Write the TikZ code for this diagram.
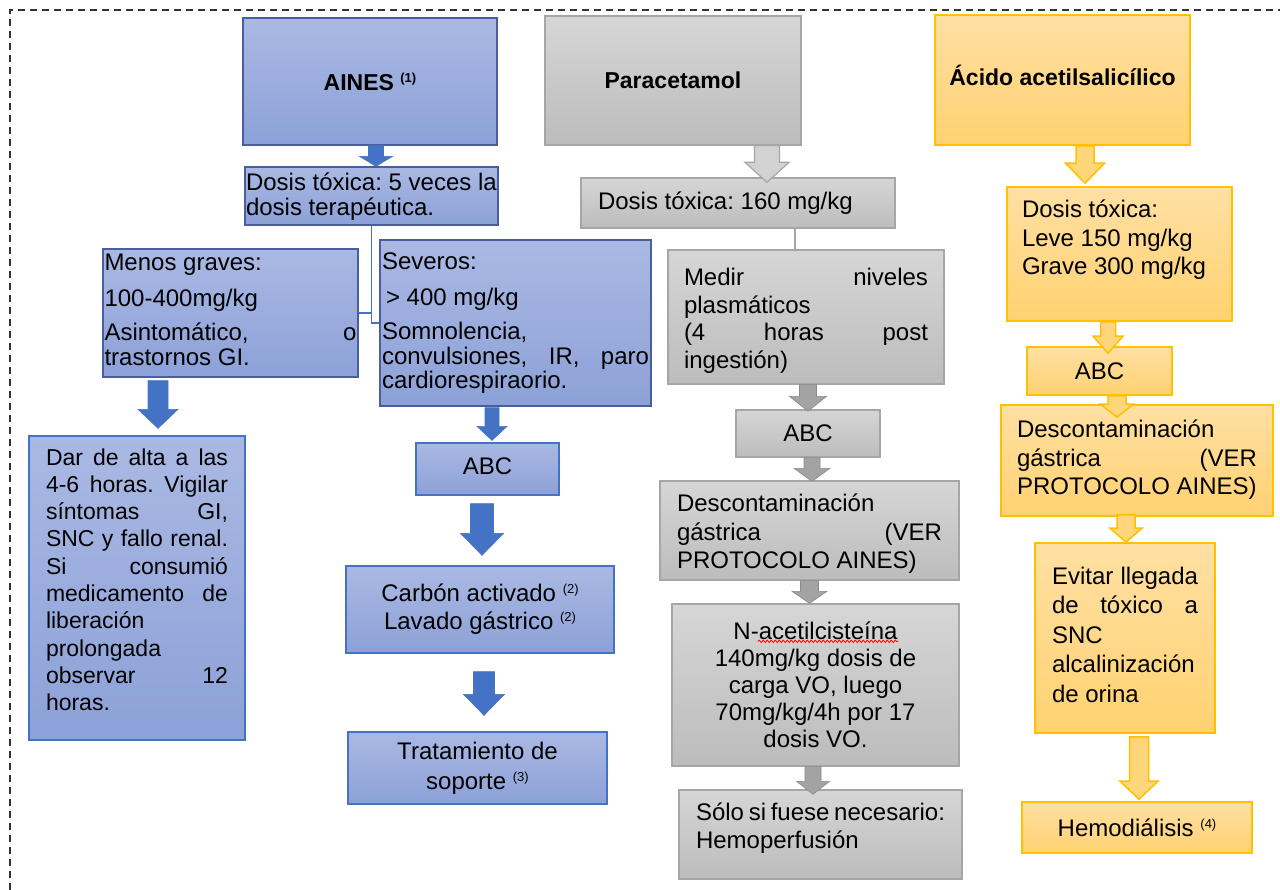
\documentclass[tikz,border=0pt]{standalone}
\usepackage{fontspec}
\setmainfont{Liberation Sans}
\usetikzlibrary{calc,decorations.pathmorphing}
\frenchspacing

\definecolor{bluetop}{HTML}{AAB9E3}
\definecolor{bluebot}{HTML}{8CA1D8}
\definecolor{blueedge}{HTML}{4A5E9E}
\definecolor{blueedgelow}{HTML}{4472C4}
\definecolor{bluearr}{HTML}{4472C4}
\definecolor{graytop}{HTML}{D6D6D6}
\definecolor{graybot}{HTML}{BCBCBC}
\definecolor{grayedge}{HTML}{A6A6A6}
\definecolor{grayarr}{HTML}{A3A3A3}
\definecolor{graylight}{HTML}{D2D2D2}
\definecolor{orangetop}{HTML}{FFE0A3}
\definecolor{orangebot}{HTML}{FFD171}
\definecolor{orangeedge}{HTML}{FFC000}
\definecolor{orangearr}{HTML}{FFD67A}

\newcommand{\refmark}[1]{\raisebox{8pt}{\fontsize{13}{13}\selectfont(#1)}}
\newcommand{\jl}[1]{\makebox[\linewidth][s]{#1}}
\newcommand{\fatarrow}[6][]{%
  \coordinate (fa1) at (#2);
  \coordinate (fa2) at (#3);
  \coordinate (fa3) at (fa1 |- fa2);
  \filldraw[#1] ($(fa1)+(-#4,0)$) -- ($(fa1)+(#4,0)$) -- ($(fa3)+(#4,-#6)$) -- ($(fa3)+(#5,-#6)$)
    -- (fa3) -- ($(fa3)+(-#5,-#6)$) -- ($(fa3)+(-#4,-#6)$) -- cycle;}

\tikzset{
  txt/.style={font=\fontsize{24}{27.6}\selectfont, text=black},
  cbox/.style={inner sep=0pt, align=center},
  bluebox/.style={txt, draw=blueedge, line width=1.3pt, top color=bluetop, bottom color=bluebot},
  blueboxlow/.style={bluebox, draw=blueedgelow},
  graybox/.style={txt, draw=grayedge, line width=1.3pt, top color=graytop, bottom color=graybot},
  orangebox/.style={txt, draw=orangeedge, line width=1.6pt, top color=orangetop, bottom color=orangebot},
  title/.style={font=\fontsize{23}{27}\selectfont\bfseries},
  bluearrow/.style={fill=bluearr, draw=bluearr, line width=0.6pt},
  grayarrow/.style={fill=grayarr, draw=grayarr!85!black, line width=0.6pt},
  graylightarrow/.style={fill=graylight, draw=grayedge, line width=1.2pt},
  orangearrow/.style={fill=orangearr, draw=orangeedge, line width=1.5pt},
  bluelink/.style={draw=bluearr, line width=1.5pt},
  graylink/.style={draw=grayedge, line width=1.5pt},
  outerframe/.style={draw=black!80, dash pattern=on 7pt off 5pt, line width=1.2pt}
}

\begin{document}
\begin{tikzpicture}[x=1pt,y=-1pt]
\useasboundingbox (0,0) rectangle (1280,890);
\draw[outerframe] (10,890) -- (10,10) -- (1280,10);

% AINES
\node[bluebox, cbox, minimum width=254, minimum height=127] (ainesT) at (370,81.5)
  {{\fontsize{23}{27}\selectfont\bfseries AINES \refmark{1}}};
\node[bluebox, inner xsep=1, inner ysep=6.1, font=\fontsize{24}{25}\selectfont] (dosisA) at (371.5,196)
  {\parbox[c][45.8pt][t]{251pt}{Dosis tóxica: 5 veces la\\dosis terapéutica.}};
\node[bluebox, inner xsep=1.5, inner ysep=5.1, font=\fontsize{24}{24.5}\selectfont] (menosA) at (230.5,313)
  {\parbox[c][117.8pt][t]{252pt}{Menos graves:\par\vspace{11.5pt}100-400mg/kg\par\vspace{9.5pt}\jl{Asintomático, o}\\trastornos GI.}};
\node[bluebox, inner xsep=2, inner ysep=13.1, font=\fontsize{24}{24.5}\selectfont] (sevA) at (515.5,323)
  {\parbox[c][139.8pt][t]{267pt}{Severos:\par\vspace{11.5pt}\hspace*{4pt}> 400 mg/kg\par\vspace{9.5pt}Somnolencia,\\\jl{convulsiones, IR, paro}\\cardiorespiraorio.}};
\node[blueboxlow, inner xsep=17, inner ysep=12.4, font=\fontsize{23}{27.3}\selectfont] (darA) at (137,588)
  {\parbox[c][279.2pt][t]{182pt}{\jl{Dar de alta a las}\\\jl{4-6 horas. Vigilar}\\\jl{síntomas GI,}\\\jl{SNC y fallo renal.}\\\jl{Si consumió}\\\jl{medicamento de}\\liberación\\prolongada\\\jl{observar 12}\\horas.}};
\node[blueboxlow, cbox, minimum width=143, minimum height=52] (abcA) at (487.5,469) {\raisebox{6pt}{ABC}};
\node[blueboxlow, cbox, minimum width=268, minimum height=87, font=\fontsize{24}{28}\selectfont] (carbA) at (480,609.5)
  {Carbón activado \refmark{2}\\Lavado gástrico \refmark{2}};
\node[blueboxlow, cbox, minimum width=259, minimum height=72, font=\fontsize{24}{30}\selectfont] (tratA) at (477.5,768)
  {Tratamiento de\\soporte \refmark{3}};

\draw[bluelink] (dosisA.south) |- (menosA.east);
\draw[bluelink] (dosisA.south) |- (sevA.west);
\fatarrow[bluearrow]{$(ainesT.south)+(6,0)$}{dosisA.north}{7.5}{16.5}{10}
\fatarrow[bluearrow]{$(menosA.south)+(-72.5,3)$}{$(darA.north)+(0,-7)$}{10}{20}{19}
\fatarrow[bluearrow]{$(sevA.south)+(-23.5,1)$}{$(abcA.north)+(0,-2)$}{7}{15}{14}
\fatarrow[bluearrow]{$(abcA.south)+(-5.5,8)$}{$(carbA.north)+(0,-10)$}{11.5}{21.5}{22}
\fatarrow[bluearrow]{$(carbA.south)+(4,18)$}{$(tratA.north)+(0,-16)$}{10.5}{20.5}{21}

% Paracetamol
\node[graybox, cbox, minimum width=256, minimum height=129, title] (parT) at (673,80.5) {Paracetamol};
\node[graybox, inner xsep=17, inner ysep=0, minimum height=50] (dosisP) at (738,203)
  {\parbox{280pt}{Dosis tóxica: 160 mg/kg}};
\node[graybox, inner xsep=16, inner ysep=18.1] (medirP) at (806,317)
  {\parbox[c][97.8pt][t]{244pt}{\jl{Medir niveles}\\plasmáticos\\\jl{(4 horas post}\\ingestión)}};
\node[graybox, cbox, minimum width=144, minimum height=47] (abcP) at (808,433.5) {ABC};
\node[graybox, inner xsep=17, inner ysep=13.1, font=\fontsize{24}{28.5}\selectfont] (descP) at (809.5,530.5)
  {\parbox[c][72.8pt][t]{265pt}{Descontaminación\\\jl{gástrica (VER}\\PROTOCOLO AINES)}};
\node[graybox, cbox, minimum width=287, minimum height=162, font=\fontsize{24}{27}\selectfont] (nacP) at (815.5,685)
  {N-acetilcisteína\\140mg/kg dosis de\\carga VO, luego\\70mg/kg/4h por 17\\dosis VO.};
\node[graybox, inner xsep=17, inner ysep=13.1, font=\fontsize{24}{28}\selectfont] (soloP) at (820.5,834.5)
  {\parbox[c][62.8pt][t]{249pt}{Sólo si fuese necesario:\\Hemoperfusión}};

\coordinate (plink) at ($(dosisP.south)+(57,0)$);
\draw[graylink] (plink) -- (plink |- medirP.north);
\fatarrow[graylightarrow]{$(parT.south)+(94,0)$}{$(dosisP.north)+(0,5)$}{12.5}{22}{20}
\fatarrow[grayarrow]{$(medirP.south)+(2,0)$}{$(abcP.north)+(0,2)$}{8.5}{18.5}{15}
\fatarrow[grayarrow]{$(abcP.south)+(4,0)$}{$(descP.north)+(0,1)$}{8}{18}{13}
\fatarrow[grayarrow]{descP.south}{nacP.north}{9}{17.5}{12}
\fatarrow[grayarrow]{$(nacP.south)+(-2.5,0)$}{$(soloP.north)+(0,5)$}{8}{16.5}{13}
\draw[red, line width=0.8pt, decorate, decoration={snake, amplitude=1.2pt, segment length=4pt}]
  ($(nacP.north)+(-57.5,38)$) -- ++(140,0);

% Acido acetilsalicilico
\node[orangebox, cbox, minimum width=255, minimum height=130, title] (acidoT) at (1062.5,80)
  {\raisebox{10pt}{Ácido acetilsalicílico}};
\node[orangebox, inner xsep=15, inner ysep=13.1, font=\fontsize{24}{28.5}\selectfont] (dosisO) at (1119.5,254)
  {\parbox[c][107.8pt][t]{195pt}{Dosis tóxica:\\Leve 150 mg/kg\\Grave 300 mg/kg}};
\node[orangebox, cbox, minimum width=145, minimum height=48] (abcO) at (1099.5,371) {ABC};
\node[orangebox, inner xsep=16, inner ysep=15.1, font=\fontsize{24}{28.5}\selectfont] (descO) at (1137,460.5)
  {\parbox[c][80.8pt][t]{240pt}{Descontaminación\\\jl{gástrica (VER}\\PROTOCOLO AINES)}};
\node[orangebox, inner xsep=17, inner ysep=24.1, font=\fontsize{24}{29.5}\selectfont] (evitarO) at (1125,638)
  {\parbox[c][141.8pt][t]{146pt}{\jl{Evitar llegada}\\\jl{de tóxico a}\\SNC\\alcalinización\\de orina}};
\node[orangebox, cbox, minimum width=230, minimum height=51] (hemoO) at (1137,827.5) {Hemodiálisis \refmark{4}};

\fatarrow[orangearrow]{$(acidoT.south)+(22.5,0)$}{$(dosisO.north)+(0,-3)$}{9}{19.5}{20}
\fatarrow[orangearrow]{$(dosisO.south)+(-11.5,0)$}{$(abcO.north)+(0,7)$}{7.5}{15}{17}
\fatarrow[orangearrow]{$(abcO.south)+(17.5,0)$}{$(descO.north)+(0,13)$}{9}{16.5}{13}
\fatarrow[orangearrow]{$(descO.south)+(-11,-2)$}{evitarO.north}{9}{16}{14}
\fatarrow[orangearrow]{$(evitarO.south)+(14,3)$}{$(hemoO.north)+(0,-2)$}{9.5}{19}{18}
\end{tikzpicture}
\end{document}
